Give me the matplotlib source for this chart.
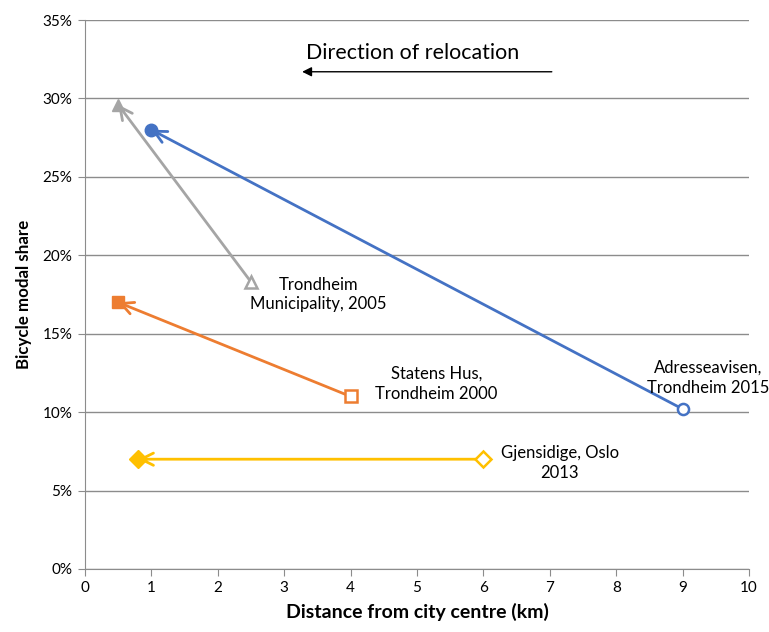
import matplotlib.pyplot as plt

plt.rcParams['font.family'] = ['Lato', 'DejaVu Sans']

# data: (from -> to) distance km, bicycle share %
names = ['Adresseavisen,\nTrondheim 2015', 'Trondheim\nMunicipality, 2005',
         'Statens Hus,\nTrondheim 2000', 'Gjensidige, Oslo\n2013']
x_from = [9, 2.5, 4, 6]
y_from = [10.2, 18.3, 11, 7]
x_to = [1, 0.5, 0.5, 0.8]
y_to = [28, 29.6, 17, 7]
colors = ['#4472C4', '#A5A5A5', '#ED7D31', '#FFC000']
markers = ['o', '^', 's', 'D']
label_pos = [(9.38, 12.2), (3.51, 17.5), (5.29, 11.8), (7.15, 6.75)]

fig = plt.figure(figsize=(7.69, 6.32), dpi=100)
ax = fig.add_axes([85 / 769, 1 - 569 / 632, 664 / 769, 549 / 632])

for i in range(len(names)):
    c = colors[i]
    ax.annotate('', xy=(x_to[i], y_to[i]), xytext=(x_from[i], y_from[i]),
                arrowprops=dict(arrowstyle='->', color=c, lw=2,
                                mutation_scale=22, shrinkA=0, shrinkB=0),
                zorder=2)
    ax.plot(x_from[i], y_from[i], marker=markers[i], ms=8, mfc='white',
            mec=c, mew=1.8, zorder=3, clip_on=False)
    ax.plot(x_to[i], y_to[i], marker=markers[i], ms=9, color=c, zorder=3,
            clip_on=False)
    ax.text(label_pos[i][0], label_pos[i][1], names[i], ha='center',
            va='center', fontsize=12, linespacing=1.3)

# direction arrow
ax.annotate('', xy=(3.27, 31.7), xytext=(7.03, 31.7),
            arrowprops=dict(arrowstyle='-|>', color='black', lw=1,
                            mutation_scale=14, shrinkA=0, shrinkB=0))
ax.text(4.94, 32.9, 'Direction of relocation', ha='center', va='center',
        fontsize=15.4)

ax.set_xlim(0, 10)
ax.set_ylim(0, 35)
ax.set_xticks(range(0, 11))
ax.set_yticks(range(0, 36, 5))
ax.set_yticklabels([f'{v}%' for v in range(0, 36, 5)])
ax.yaxis.grid(True, color='#8C8C8C', lw=1)
ax.set_axisbelow(True)
for s in ['top', 'right']:
    ax.spines[s].set_visible(False)
ax.spines['left'].set_color('#8C8C8C')
ax.spines['bottom'].set_color('#8C8C8C')
ax.tick_params(axis='y', length=5, color='#8C8C8C', labelsize=11, pad=4)
ax.tick_params(axis='x', length=5, color='#8C8C8C', labelsize=11)
ax.set_xlabel('Distance from city centre (km)', fontsize=14,
              fontweight='bold', labelpad=6)
ax.set_ylabel('Bicycle modal share', fontsize=12.2, fontweight='bold',
              labelpad=8)

fig.savefig('out.png', dpi=100)
